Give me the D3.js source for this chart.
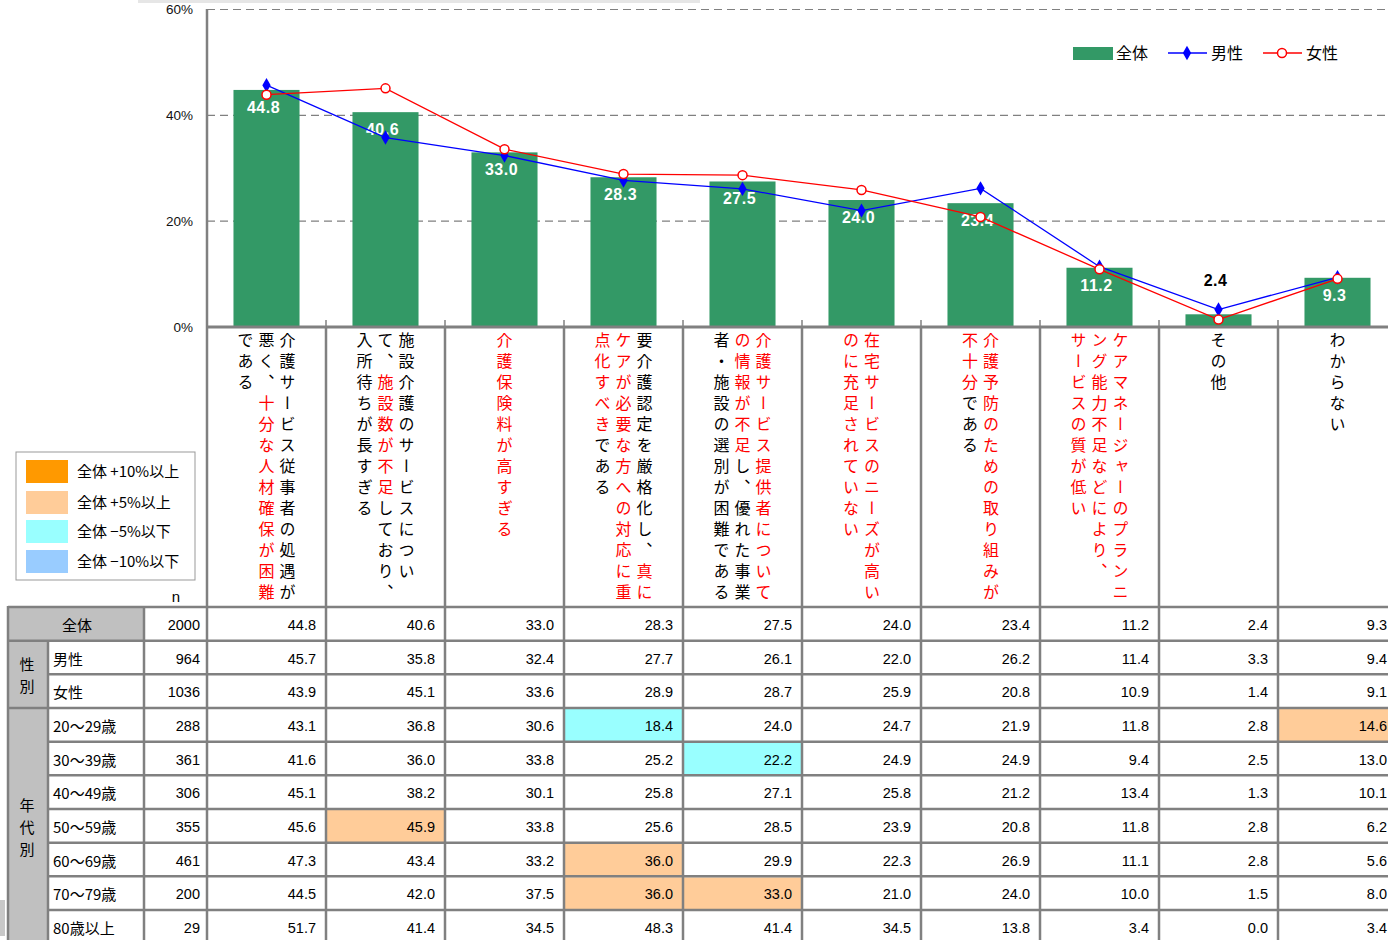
<!DOCTYPE html>
<html>
<head>
<meta charset="utf-8">
<script src="https://cdn.jsdelivr.net/npm/d3@7"></script>
<style>
body { margin: 0; background: #fff; }
text { font-family: "Noto Sans CJK JP", sans-serif; }
.num { font-family: "Liberation Sans", Arial, sans-serif; }
</style>
</head>
<body>
<svg id="chart" width="1388" height="940"></svg>
<script>
// category labels: "|" = line break, *...* = red part
let labels = [
    "介護サービス従事者の処遇が|悪く、*十分な人材確保が困難*|である",
    "施設介護のサービスについ|て、*施設数が不足*しており、|入所待ちが長すぎる",
    "*介護保険料が高すぎる*",
    "要介護認定を厳格化し、*真に*|*ケアが必要な方への対応に重*|*点化すべき*である",
    "*介護サービス提供者について*|*の情報が不足*し、優れた事業|者・施設の選別が困難である",
    "*在宅サービスのニーズが高い*|*のに充足されていない*",
    "*介護予防のための取り組みが*|*不十分*である",
    "*ケアマネージャーのプランニ*|*ング能力不足などにより、*|*サービスの質が低い*",
    "その他",
    "わからない"
]
let categories = labels.map(d => d.replace(/[|*]/g, ''))

let total = [44.8, 40.6, 33.0, 28.3, 27.5, 24.0, 23.4, 11.2, 2.4, 9.3]
let male = [45.7, 35.8, 32.4, 27.7, 26.1, 22.0, 26.2, 11.4, 3.3, 9.4]
let female = [43.9, 45.1, 33.6, 28.9, 28.7, 25.9, 20.8, 10.9, 1.4, 9.1]

let yTicks = [0, 20, 40, 60]

let rowNames = ["全体", "男性", "女性", "20～29歳", "30～39歳", "40～49歳", "50～59歳", "60～69歳", "70～79歳", "80歳以上"]
let rowN = [2000, 964, 1036, 288, 361, 306, 355, 461, 200, 29]
let rowValues = [
    [44.8, 40.6, 33.0, 28.3, 27.5, 24.0, 23.4, 11.2, 2.4, 9.3],
    [45.7, 35.8, 32.4, 27.7, 26.1, 22.0, 26.2, 11.4, 3.3, 9.4],
    [43.9, 45.1, 33.6, 28.9, 28.7, 25.9, 20.8, 10.9, 1.4, 9.1],
    [43.1, 36.8, 30.6, 18.4, 24.0, 24.7, 21.9, 11.8, 2.8, 14.6],
    [41.6, 36.0, 33.8, 25.2, 22.2, 24.9, 24.9, 9.4, 2.5, 13.0],
    [45.1, 38.2, 30.1, 25.8, 27.1, 25.8, 21.2, 13.4, 1.3, 10.1],
    [45.6, 45.9, 33.8, 25.6, 28.5, 23.9, 20.8, 11.8, 2.8, 6.2],
    [47.3, 43.4, 33.2, 36.0, 29.9, 22.3, 26.9, 11.1, 2.8, 5.6],
    [44.5, 42.0, 37.5, 36.0, 33.0, 21.0, 24.0, 10.0, 1.5, 8.0],
    [51.7, 41.4, 34.5, 48.3, 41.4, 34.5, 13.8, 3.4, 0.0, 3.4]
]
let groups = [
    { name: "性別", first: "男性", last: "女性" },
    { name: "年代別", first: "20～29歳", last: "80歳以上" }
]

let highlightKeys = ["全体 +10%以上", "全体 +5%以上", "全体 −5%以下", "全体 −10%以下"]
let highlightColors = ["#FF9900", "#FFCC99", "#99FFFF", "#99CCFF"]

let gridColor = "#808080"
let green = "#339966"

let svg = d3.select("#chart")

// strip at top of screenshot
svg.append("rect").attr("x", 138).attr("y", 0).attr("width", 562).attr("height", 3).attr("fill", "#e6e6e6")

// scales
let xCol = d3.scaleBand().domain(categories).range([207, 1397])
let xBar = d3.scaleBand().domain(categories).range([207, 1397]).paddingInner(0.445).paddingOuter(0.2225)
let cx = d => xCol(d) + xCol.bandwidth() / 2
let y = d3.scaleLinear().domain([0, 60]).range([327, 9.5])

// gridlines
svg.append("g")
    .selectAll("line")
    .data(yTicks.filter(d => d > 0))
    .enter().append("line")
    .attr("x1", 207).attr("x2", 1388)
    .attr("y1", d => y(d)).attr("y2", d => y(d))
    .attr("stroke", gridColor)
    .attr("stroke-width", 1.2)
    .attr("stroke-dasharray", "8,5")

// y axis labels
let yAxis = svg.append("g")
    .attr("transform", "translate(207,0)")
    .call(d3.axisLeft(y).tickValues(yTicks).tickFormat(d => d + "%").tickSize(0).tickPadding(14))
yAxis.select(".domain").remove()
yAxis.selectAll("text")
    .attr("class", "num")
    .style("font-size", "13.5px")
    .style("fill", "#111")

// bars
svg.append("g")
    .selectAll("rect")
    .data(categories)
    .enter().append("rect")
    .attr("x", d => xBar(d))
    .attr("width", xBar.bandwidth())
    .attr("y", (d, i) => y(total[i]))
    .attr("height", (d, i) => y(0) - y(total[i]))
    .attr("fill", green)

// bar labels
svg.append("g")
    .selectAll("text")
    .data(categories)
    .enter().append("text")
    .attr("class", "num")
    .attr("x", d => cx(d) - 3)
    .attr("y", (d, i) => total[i] >= 5 ? y(total[i]) + 23 : y(total[i]) - 28)
    .attr("text-anchor", "middle")
    .style("font-size", "16px")
    .style("font-weight", "bold")
    .style("letter-spacing", "0.5px")
    .attr("fill", (d, i) => total[i] >= 5 ? "#fff" : "#000")
    .text((d, i) => total[i].toFixed(1))

// lines
let line = d3.line().x((d, i) => cx(categories[i])).y(d => y(d))
svg.append("path").datum(male).attr("d", line).attr("fill", "none").attr("stroke", "#0000FF").attr("stroke-width", 1.3)
svg.append("path").datum(female).attr("d", line).attr("fill", "none").attr("stroke", "#FF0000").attr("stroke-width", 1.3)

let diamond = d3.symbol().type(d3.symbolDiamond).size(60)
svg.append("g")
    .selectAll("path")
    .data(male)
    .enter().append("path")
    .attr("d", diamond)
    .attr("transform", (d, i) => `translate(${cx(categories[i])},${y(d)})`)
    .attr("fill", "#0000FF")

svg.append("g")
    .selectAll("circle")
    .data(female)
    .enter().append("circle")
    .attr("cx", (d, i) => cx(categories[i]))
    .attr("cy", d => y(d))
    .attr("r", 4.5)
    .attr("fill", "#fff")
    .attr("stroke", "#FF0000")
    .attr("stroke-width", 1.5)

// category axis ticks
svg.append("g")
    .selectAll("line")
    .data(categories.slice(1))
    .enter().append("line")
    .attr("x1", d => xCol(d)).attr("x2", d => xCol(d))
    .attr("y1", 320).attr("y2", 327)
    .attr("stroke", gridColor).attr("stroke-width", 1.5)

// legend (top right)
let legend = svg.append("g").style("font-size", "16px")
legend.append("rect").attr("x", 1073).attr("y", 47).attr("width", 40).attr("height", 13).attr("fill", green)
legend.append("text").attr("x", 1116).attr("y", 59).text("全体")
legend.append("line").attr("x1", 1168).attr("x2", 1207).attr("y1", 53).attr("y2", 53).attr("stroke", "#0000FF").attr("stroke-width", 1.3)
legend.append("path").attr("d", diamond).attr("transform", "translate(1187,53)").attr("fill", "#0000FF")
legend.append("text").attr("x", 1211).attr("y", 59).text("男性")
legend.append("line").attr("x1", 1263).attr("x2", 1302).attr("y1", 53).attr("y2", 53).attr("stroke", "#FF0000").attr("stroke-width", 1.3)
legend.append("circle").attr("cx", 1282).attr("cy", 53).attr("r", 4.5).attr("fill", "#fff").attr("stroke", "#FF0000").attr("stroke-width", 1.5)
legend.append("text").attr("x", 1306).attr("y", 59).text("女性")

// vertical category labels
let labelG = svg.append("g")
categories.forEach((c, i) => {
    let lines = labels[i].split("|")
    lines.forEach((ln, j) => {
        let lx = cx(c) + (lines.length - 1) / 2 * 21 - j * 21
        let t = labelG.append("text")
            .attr("x", lx)
            .attr("y", 332)
            .style("writing-mode", "vertical-rl")
            .style("font-size", "16px")
            .style("letter-spacing", "5px")
        ln.split("*").forEach((seg, k) => {
            if (seg) t.append("tspan").attr("fill", k % 2 ? "#FF0000" : "#000").text(seg)
        })
    })
})

// highlight legend box
let hl = svg.append("g")
hl.append("rect").attr("x", 16).attr("y", 452).attr("width", 179).attr("height", 128)
    .attr("fill", "#fff").attr("stroke", "#999").attr("stroke-width", 1)
let hy = [460, 491, 520, 550]
hl.selectAll(".sw")
    .data(highlightKeys)
    .enter().append("rect")
    .attr("x", 26).attr("y", (d, i) => hy[i])
    .attr("width", 42).attr("height", 23)
    .attr("fill", (d, i) => highlightColors[i])
hl.selectAll(".lt")
    .data(highlightKeys)
    .enter().append("text")
    .attr("x", 77).attr("y", (d, i) => hy[i] + 17)
    .style("font-size", "15px")
    .text(d => d)

svg.append("text").attr("x", 176).attr("y", 602).attr("text-anchor", "middle")
    .attr("class", "num").style("font-size", "15px").text("n")

// table
let yRow = d3.scaleBand().domain(rowNames).range([608, 608 + 33.67 * rowNames.length])
let tbl = svg.append("g")

// header cell 全体 and group column fills
tbl.append("rect").attr("x", 8).attr("y", yRow("全体")).attr("width", 136).attr("height", yRow.bandwidth()).attr("fill", "#C0C0C0")
tbl.append("rect").attr("x", 8).attr("y", yRow("男性")).attr("width", 40).attr("height", 940 - yRow("男性")).attr("fill", "#C0C0C0")

// highlight cells: difference from 全体, only for n >= 30
let cellColor = (r, c) => {
    if (r === 0 || rowN[r] < 30) return null
    let diff = Math.round((rowValues[r][c] - rowValues[0][c]) * 10) / 10
    if (diff >= 10) return highlightColors[0]
    if (diff >= 5) return highlightColors[1]
    if (diff <= -10) return highlightColors[3]
    if (diff <= -5) return highlightColors[2]
    return null
}
rowNames.forEach((rn, r) => {
    categories.forEach((c, ci) => {
        let col = cellColor(r, ci)
        if (col) tbl.append("rect").attr("x", xCol(c)).attr("y", yRow(rn))
            .attr("width", xCol.bandwidth()).attr("height", yRow.bandwidth()).attr("fill", col)
    })
})

// row labels
tbl.append("text").attr("x", 77).attr("y", yRow("全体") + 23).attr("text-anchor", "middle")
    .style("font-size", "15px").text("全体")
tbl.selectAll(".rl")
    .data(rowNames.slice(1))
    .enter().append("text")
    .attr("x", 53)
    .attr("y", d => yRow(d) + 23)
    .style("font-size", "15px")
    .text(d => d)

groups.forEach(g => {
    let top = yRow(g.first), bottom = yRow(g.last) + yRow.bandwidth()
    let chars = g.name.split("")
    let mid = (top + bottom) / 2
    chars.forEach((ch, k) => {
        tbl.append("text")
            .attr("x", 27)
            .attr("y", mid + (k - (chars.length - 1) / 2) * 22 + 6)
            .attr("text-anchor", "middle")
            .style("font-size", "15px")
            .text(ch)
    })
})

// n column
tbl.selectAll(".n")
    .data(rowN)
    .enter().append("text")
    .attr("class", "num")
    .attr("x", 200)
    .attr("y", (d, i) => yRow(rowNames[i]) + 22)
    .attr("text-anchor", "end")
    .style("font-size", "14.5px")
    .text(d => d)

// values
rowNames.forEach((rn, r) => {
    tbl.selectAll(null)
        .data(rowValues[r])
        .enter().append("text")
        .attr("class", "num")
        .attr("x", (d, i) => xCol(categories[i]) + xCol.bandwidth() - 10)
        .attr("y", yRow(rn) + 22)
        .attr("text-anchor", "end")
        .style("font-size", "14.5px")
        .text(d => d.toFixed(1))
})

// table grid lines
let grid = svg.append("g").attr("stroke", gridColor).attr("stroke-width", 2.5)
rowNames.forEach((rn, r) => {
    let yy = yRow(rn) - 1
    let x0 = (r === 0 || r === 1 || r === 3) ? 8 : 48
    grid.append("line").attr("x1", x0).attr("x2", 1388).attr("y1", yy).attr("y2", yy)
})
grid.append("line").attr("x1", 8).attr("x2", 8).attr("y1", 606).attr("y2", 940)
grid.append("line").attr("x1", 48).attr("x2", 48).attr("y1", yRow("男性") - 1).attr("y2", 940)
grid.append("line").attr("x1", 144).attr("x2", 144).attr("y1", 606).attr("y2", 940)
grid.append("line").attr("x1", 207).attr("x2", 207).attr("y1", 9).attr("y2", 940)
categories.slice(1).forEach(c => {
    grid.append("line").attr("x1", xCol(c)).attr("x2", xCol(c)).attr("y1", 327).attr("y2", 940)
})
grid.append("line").attr("x1", 207).attr("x2", 1388).attr("y1", 327).attr("y2", 327).attr("stroke-width", 3)

// little mark at bottom left
svg.append("rect").attr("x", 0).attr("y", 900).attr("width", 5).attr("height", 36).attr("fill", "#c8c8c8")
</script>
</body>
</html>
